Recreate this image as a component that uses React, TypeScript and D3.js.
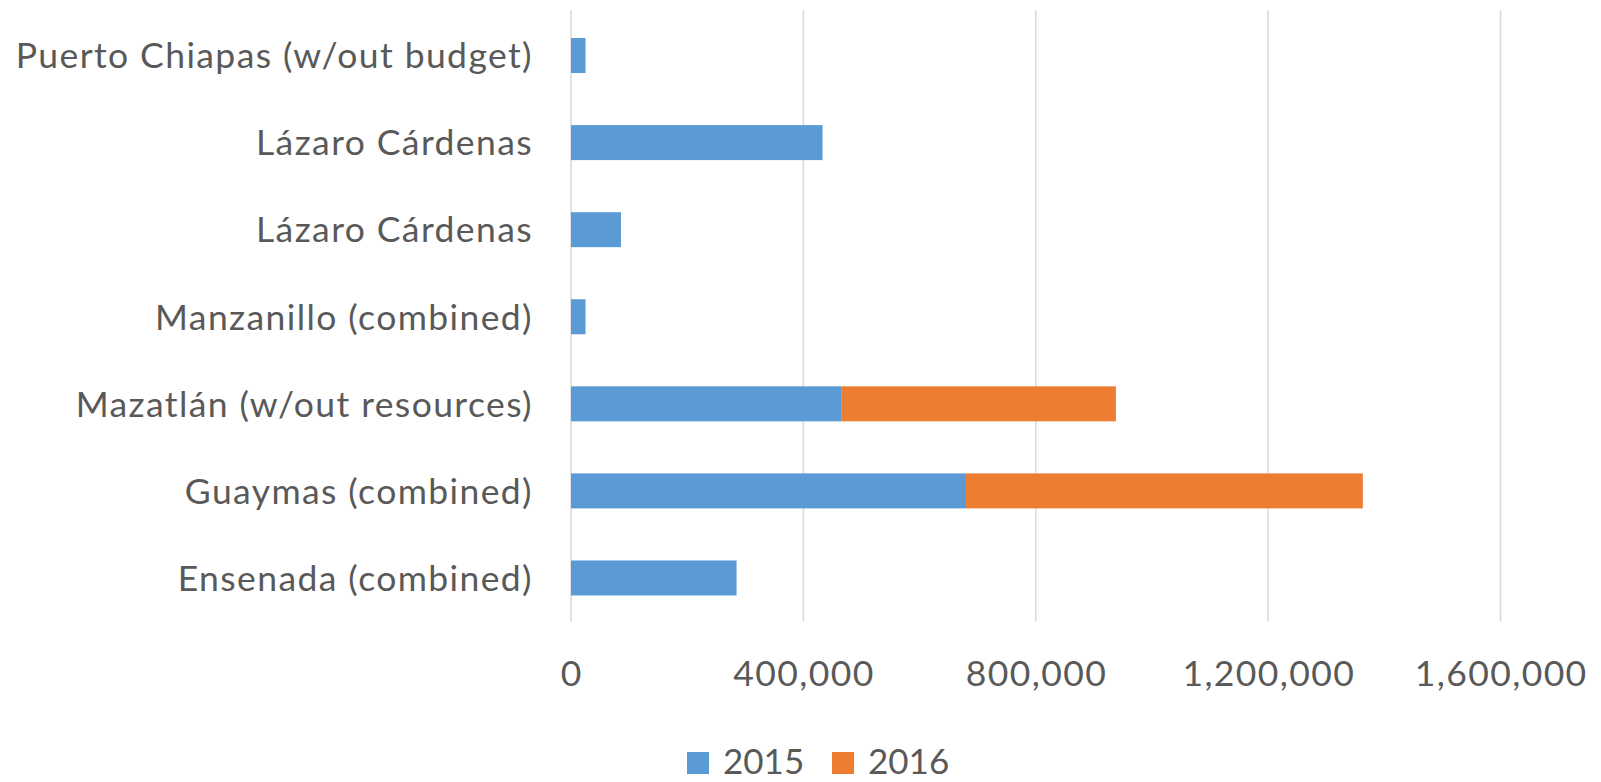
import React, { useEffect, useRef } from 'react';
import * as d3 from 'd3';

// ports, top to bottom as drawn
const ports = [
  'Puerto Chiapas (w/out budget)',
  'Lázaro Cárdenas',
  'Lázaro Cárdenas',
  'Manzanillo (combined)',
  'Mazatlán (w/out resources)',
  'Guaymas (combined)',
  'Ensenada (combined)',
];
const values2015 = [25000, 433000, 86000, 25000, 465000, 680000, 285000];
const values2016 = [0, 0, 0, 0, 473000, 683000, 0];
const seriesNames = ['2015', '2016'];
const seriesColors = ['#5B9BD5', '#ED7D31'];
const xTicks = [0, 400000, 800000, 1200000, 1600000];

const W = 1601;
const H = 782;
const FONT = 'Lato, sans-serif';
const TEXT = '#595959';

const App = () => {
  const svgRef = useRef<SVGSVGElement>(null);

  useEffect(() => {
    const svg = d3.select(svgRef.current);
    svg.selectAll('*').remove();

    const x = d3.scaleLinear().domain([0, 1600000]).range([571, 1500.5]);
    const y = d3.scaleBand<number>()
      .domain(d3.range(ports.length))
      .range([12, 621.5])
      .paddingInner(0.598)
      .paddingOuter(0.299);

    // gridlines
    svg.append('g')
      .selectAll('line')
      .data(xTicks)
      .enter().append('line')
      .attr('x1', d => x(d)).attr('x2', d => x(d))
      .attr('y1', 10).attr('y2', 621.5)
      .attr('stroke', '#D9D9D9')
      .attr('stroke-width', 1.5);

    // stacked bars
    const rows = ports.map((p, i) => ({ i, a: values2015[i], b: values2016[i] }));
    const stack = d3.stack<any>().keys(['a', 'b'])(rows);
    stack.forEach((layer, k) => {
      svg.append('g')
        .selectAll('rect')
        .data(layer)
        .enter().append('rect')
        .attr('x', d => x(d[0]))
        .attr('y', d => y(d.data.i)!)
        .attr('width', d => Math.max(0, x(d[1]) - x(d[0])))
        .attr('height', y.bandwidth())
        .attr('fill', seriesColors[k]);
    });

    // category labels (letter-spacing leaves a trailing gap, hence 533)
    svg.append('g')
      .selectAll('text')
      .data(ports)
      .enter().append('text')
      .attr('x', 533)
      .attr('y', (d, i) => y(i)! + y.bandwidth() / 2)
      .attr('dy', '0.36em')
      .attr('text-anchor', 'end')
      .attr('font-family', FONT)
      .attr('font-size', 35.5)
      .attr('letter-spacing', 1.4)
      .attr('fill', TEXT)
      .text(d => d);

    // tick labels
    const fmt = d3.format(',');
    svg.append('g')
      .selectAll('text')
      .data(xTicks)
      .enter().append('text')
      .attr('x', d => x(d) + 0.7)
      .attr('y', 686)
      .attr('text-anchor', 'middle')
      .attr('font-family', FONT)
      .attr('font-size', 35.5)
      .attr('letter-spacing', 1.4)
      .attr('fill', TEXT)
      .text(d => fmt(d));

    // legend
    const legendX = [687, 832];
    const lg = svg.append('g');
    seriesNames.forEach((name, k) => {
      lg.append('rect')
        .attr('x', legendX[k]).attr('y', 752)
        .attr('width', 22).attr('height', 22)
        .attr('fill', seriesColors[k]);
      lg.append('text')
        .attr('x', legendX[k] + 36)
        .attr('y', 774)
        .attr('font-family', FONT)
        .attr('font-size', 35)
        .attr('fill', TEXT)
        .text(name);
    });
  }, []);

  return (
    <svg
      ref={svgRef}
      width={W}
      height={H}
      style={{ position: 'absolute', left: 0, top: 0, background: '#fff' }}
    />
  );
};

export default App;
